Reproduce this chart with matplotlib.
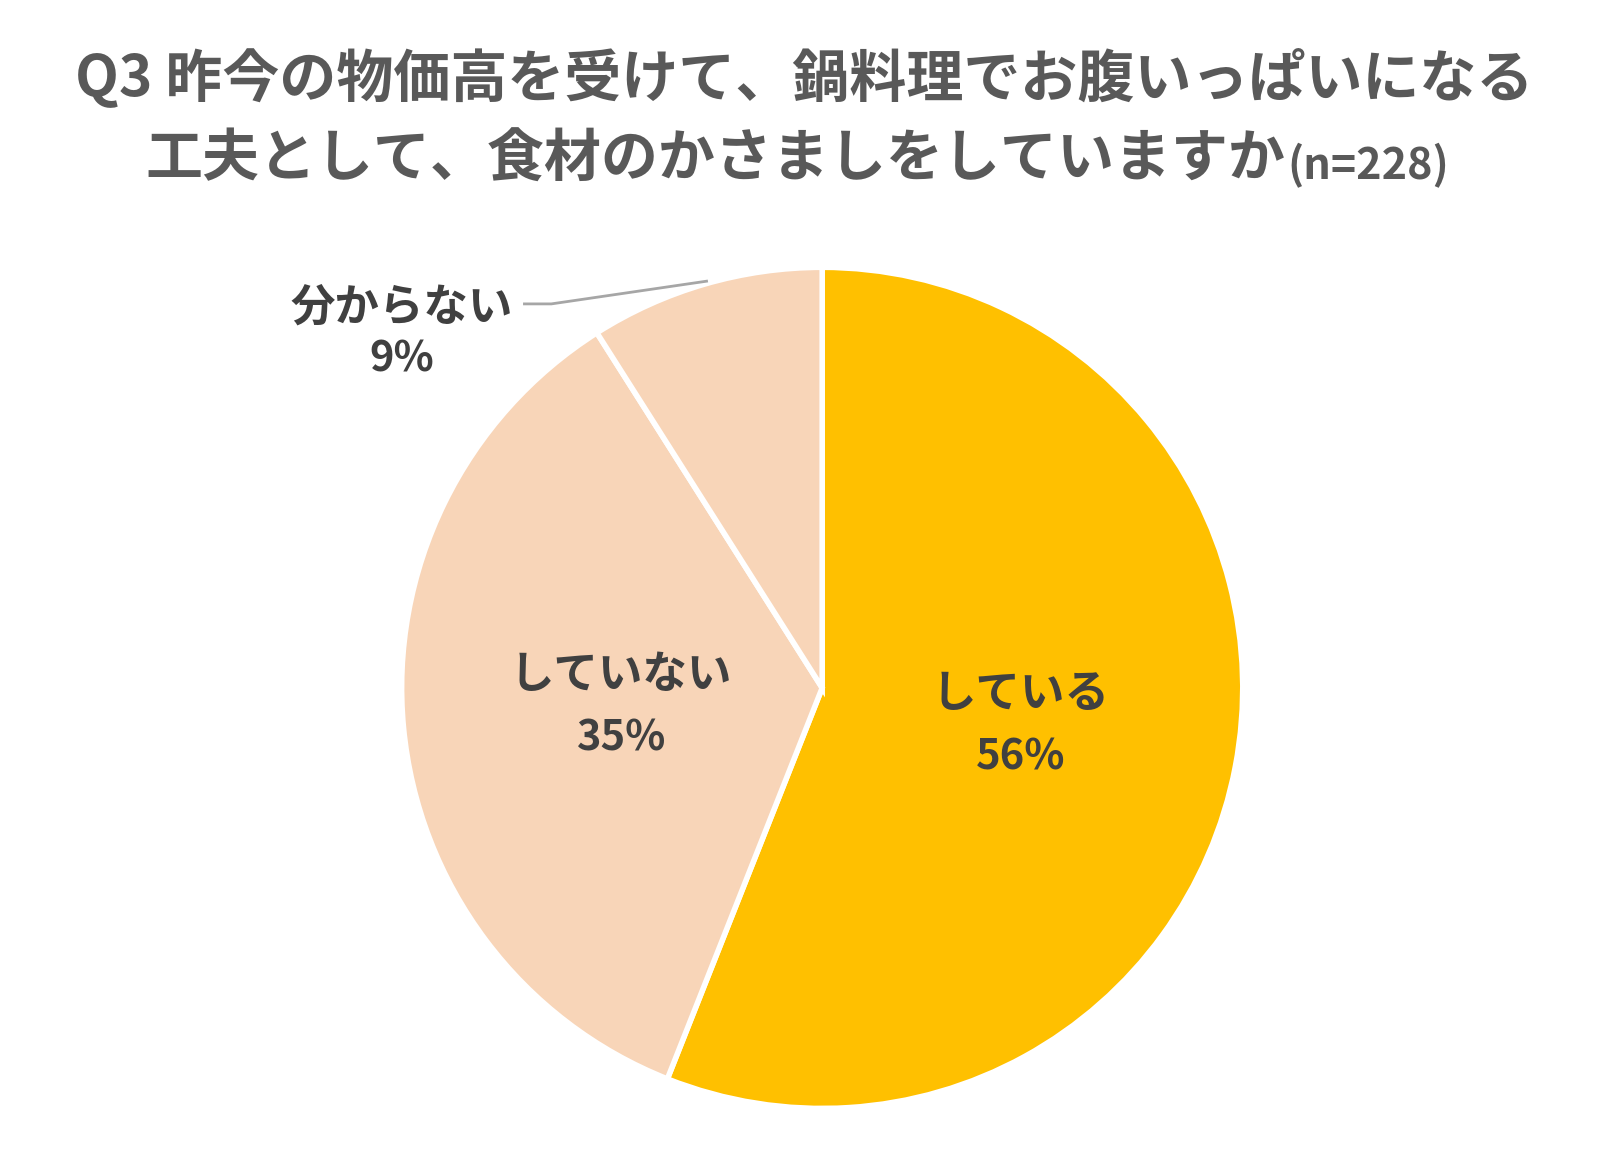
import numpy as np
import matplotlib.pyplot as plt

plt.rcParams['font.family'] = ['Noto Sans CJK JP']

labels = ["している", "していない", "分からない"]
values = [56, 35, 9]
colors = ["#FFC000", "#F8D5B8", "#F8D5B8"]
text_color = "#404040"

fig = plt.figure(figsize=(16.09, 11.6), dpi=100)
ax = fig.add_axes([0.511 - 0.264, 0.407 - 0.3665, 0.528, 0.733])

wedges, _ = ax.pie(values, colors=colors, startangle=90, counterclock=False,
                   radius=1, wedgeprops=dict(edgecolor="white", linewidth=4))
ax.set_xlim(-1.01, 1.01)
ax.set_ylim(-1.01, 1.01)
ax.set_aspect("equal")

# labels inside the two big slices
for w, lab, v in zip(wedges[:2], labels[:2], values[:2]):
    ang = np.deg2rad((w.theta1 + w.theta2) / 2)
    x, y = 0.48 * np.cos(ang), 0.48 * np.sin(ang)
    ax.text(x, y + 0.075, lab, ha="center", va="center", fontsize=32,
            fontweight="bold", color=text_color)
    ax.text(x, y - 0.075, f"{v}%", ha="center", va="center", fontsize=30,
            fontweight="bold", color=text_color)

# outside label for the small slice with a leader line
ax.text(-1.0, 0.905, labels[2], ha="center", va="center", fontsize=32,
        fontweight="bold", color=text_color)
ax.text(-1.0, 0.78, f"{values[2]}%", ha="center", va="center", fontsize=30,
        fontweight="bold", color=text_color)
ax.plot([-0.708, -0.644, -0.275], [0.913, 0.913, 0.967], color="#A6A6A6",
        lw=2, clip_on=False)

fig.text(0.5, 0.933, "Q3 昨今の物価高を受けて、鍋料理でお腹いっぱいになる",
         ha="center", va="center", fontsize=41, fontweight="bold", color="#595959")
fig.text(0.799, 0.862, "工夫として、食材のかさましをしていますか", ha="right",
         va="center", fontsize=41, fontweight="bold", color="#595959")
fig.text(0.800, 0.857, "(n=228)", ha="left", va="center", fontsize=31,
         fontweight="bold", color="#595959")

fig.savefig("out.png", dpi=100, facecolor="white")
